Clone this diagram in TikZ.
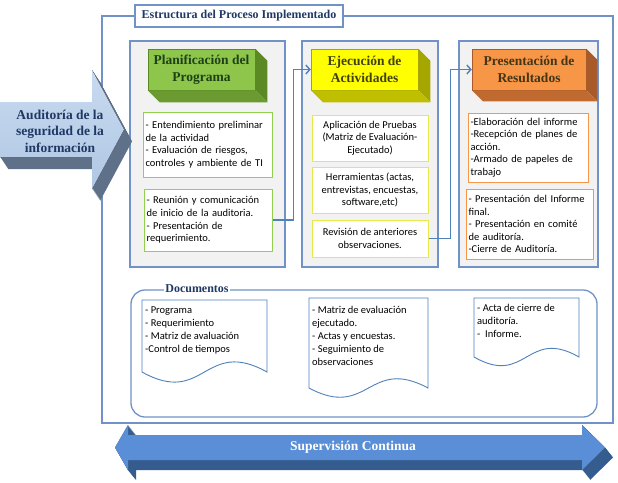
\documentclass[tikz,border=0pt]{standalone}
\usepackage{fontspec}
\setmainfont{Liberation Serif}
\newfontfamily\calib{Carlito}
\usetikzlibrary{arrows.meta}
\definecolor{frameblue}{HTML}{7092C6}
\definecolor{lineblue}{HTML}{4F81BD}
\definecolor{titleblue}{HTML}{1F3864}
\definecolor{panelgray}{HTML}{F2F2F2}
\definecolor{gfront}{HTML}{8DC64B}
\definecolor{gside}{HTML}{5B8A25}
\definecolor{gbot}{HTML}{6A9A30}
\definecolor{gtext}{HTML}{1F4016}
\definecolor{gborder}{HTML}{92D050}
\definecolor{yfront}{HTML}{FFFF00}
\definecolor{yside}{HTML}{A6A600}
\definecolor{ybot}{HTML}{BFBF00}
\definecolor{ytext}{HTML}{404010}
\definecolor{yborder}{HTML}{E8E84A}
\definecolor{ofront}{HTML}{F79646}
\definecolor{oside}{HTML}{A85A28}
\definecolor{obot}{HTML}{C06A30}
\definecolor{otext}{HTML}{433516}
\definecolor{oborder}{HTML}{F79646}
\definecolor{audtop}{HTML}{C8DAF0}
\definecolor{audbot}{HTML}{B0C7E3}
\definecolor{auddark}{HTML}{5E7189}
\definecolor{supfront}{HTML}{5A8ED6}
\definecolor{supdark}{HTML}{355C8F}
\newcommand\hdrext[4]{%
  \fill[#3] (#1.north east) -- ([shift={(#2,#2)}]#1.north east) -- ([shift={(#2,#2)}]#1.south east) -- (#1.south east) -- cycle;
  \fill[#4] (#1.south west) -- ([shift={(#2,#2)}]#1.south west) -- ([shift={(#2,#2)}]#1.south east) -- (#1.south east) -- cycle;}
\begin{document}
\begin{tikzpicture}[x=1pt,y=-1pt,
  frame/.style={draw=frameblue,line width=1.3pt,inner sep=0pt},
  panel/.style={draw=frameblue,fill=panelgray,line width=1.3pt,inner sep=0pt},
  hdr/.style={inner sep=0pt,font=\fontsize{13.5}{16.5}\selectfont\bfseries,align=center,minimum height=41pt,line width=0.5pt},
  tb/.style={fill=white,line width=1pt,inner sep=2.5pt,font=\calib\fontsize{10.5}{12.6}\selectfont},
  doctext/.style={inner sep=2pt,align=left,font=\calib\fontsize{10.5}{13}\selectfont},
  docshape/.style={draw=lineblue,fill=white,line width=0.9pt},
  conn/.style={draw=lineblue,line width=1.4pt,-{Straight Barb[length=4pt,width=9pt]}}
]
\useasboundingbox (0,0) rectangle (618,482);
\fill[white] (0,0) rectangle (618,482);

% outer frame and title
\node[frame,minimum width=511pt,minimum height=407pt] (outer) at (357.5,219.5) {};
\node[frame,fill=white,minimum width=208pt,minimum height=22pt,text=titleblue,font=\fontsize{12}{14}\selectfont\bfseries] (title) at (239,16) {Estructura del Proceso Implementado};

% panels
\node[panel,minimum width=155pt,minimum height=226pt] (p1) at (207.5,154) {};
\node[panel,minimum width=136pt,minimum height=226pt] (p2) at (370,154) {};
\node[panel,minimum width=139pt,minimum height=226pt] (p3) at (528.5,154) {};

% headers
\node[hdr,fill=gfront,draw=gside,text=gtext,minimum width=107pt] (h1) at (201.5,69.5) {Planificación del\\Programa};
\hdrext{h1}{12}{gside}{gbot}
\node[hdr,fill=yfront,draw=yside,text=ytext,minimum width=107pt] (h2) at (364.5,69.5) {Ejecución de\\Actividades};
\hdrext{h2}{12}{yside}{ybot}
\node[hdr,fill=ofront,draw=oside,text=otext,minimum width=114pt] (h3) at (529,69.5) {Presentación de\\Resultados};
\hdrext{h3}{11}{oside}{obot}

% panel 1 boxes
\node[tb,draw=gborder,align=left,text width=124pt,minimum width=129pt,minimum height=65pt] (a1) at (207.5,144.5)
 {- Entendimiento preliminar\\de la actividad\\- Evaluación de riesgos,\\controles y ambiente de TI};
\node[tb,draw=gborder,align=left,text width=123pt,minimum width=128pt,minimum height=62pt] (a2) at (208,220)
 {- Reunión y comunicación\\de inicio de la auditoria.\\- Presentación de\\requerimiento.};

% panel 2 boxes
\node[tb,draw=yborder,align=center,minimum width=116pt,minimum height=46pt] (b1) at (370,138)
 {Aplicación de Pruebas\\(Matriz de Evaluación-\\Ejecutado)};
\node[tb,draw=yborder,align=center,minimum width=116pt,minimum height=46pt] (b2) at (370,190)
 {Herramientas (actas,\\entrevistas, encuestas,\\software,etc)};
\node[tb,draw=yborder,align=center,minimum width=116pt,minimum height=37pt] (b3) at (370,238.5)
 {Revisión de anteriores\\observaciones.};

% panel 3 boxes
\node[tb,draw=oborder,align=left,text width=115pt,minimum width=120pt,minimum height=69pt] (c1) at (528,147.5)
 {-Elaboración del informe\\-Recepción de planes de\\acción.\\-Armado de papeles de\\trabajo};
\node[tb,draw=oborder,align=left,text width=122pt,minimum width=127pt,minimum height=70pt] (c2) at (529.5,224)
 {- Presentación del Informe\\final.\\- Presentación en comité\\de auditoría.\\-Cierre de Auditoría.};

% connectors
\draw[conn] (a2.east) -- ++(21,0) |- (h2.west);
\draw[conn] (b3.east) -- ++(22,0) |- (h3.west);

% documents
\node[frame,rounded corners=14pt,minimum width=466pt,minimum height=127pt] (docs) at (364,353.5) {};
\node[fill=white,inner sep=1pt,text=titleblue,font=\fontsize{12}{14}\selectfont\bfseries] (doclbl) at (197,289) {Documentos};

\draw[docshape] (142,300) -- (267,300) -- (267,372) .. controls (204.5,337) and (204.5,407) .. (142,372) -- cycle;
\draw[docshape] (309,298) -- (428,298) -- (428,388) .. controls (368.5,356) and (368.5,420) .. (309,388) -- cycle;
\draw[docshape] (474,298) -- (579,298) -- (579,357) .. controls (526.5,327) and (526.5,387) .. (474,357) -- cycle;
\node[doctext,anchor=north west] (d1) at (143,305) {- Programa\\- Requerimiento\\- Matriz de avaluación\\-Control de tiempos};
\node[doctext,anchor=north west] (d2) at (310,304) {- Matriz de evaluación\\ejecutado.\\- Actas y encuestas.\\- Seguimiento de\\observaciones};
\node[doctext,anchor=north west] (d3) at (475,302) {- Acta de cierre de\\auditoría.\\-\ \ Informe.};

% left big arrow
\foreach \i in {0,...,16}{
  \fill[auddark,shift={(\i*0.5,\i*0.75)}] (0,102) -- (92,102) -- (92,70) -- (124,129.5) -- (92,189) -- (92,157) -- (0,157) -- cycle;
}
\fill[top color=audtop,bottom color=audbot] (0,102) -- (92,102) -- (92,70) -- (124,129.5) -- (92,189) -- (92,157) -- (0,157) -- cycle;
\node[align=center,text=titleblue,font=\fontsize{13.5}{16.5}\selectfont\bfseries] (aud) at (60,131) {Auditoría de la\\seguridad de la\\información};

% supervision arrow
\foreach \i in {0,...,16}{
  \fill[supdark,shift={(\i*0.5,\i*0.625)}] (115,447.5) -- (128,425) -- (128,435) -- (582,435) -- (582,425) -- (605,447.5) -- (582,470) -- (582,460) -- (128,460) -- (128,470) -- cycle;
}
\fill[supfront] (115,447.5) -- (128,425) -- (128,435) -- (582,435) -- (582,425) -- (605,447.5) -- (582,470) -- (582,460) -- (128,460) -- (128,470) -- cycle;
\node[text=white,font=\fontsize{13.5}{16}\selectfont\bfseries] (sup) at (353,447) {Supervisión Continua};
\end{tikzpicture}
\end{document}
